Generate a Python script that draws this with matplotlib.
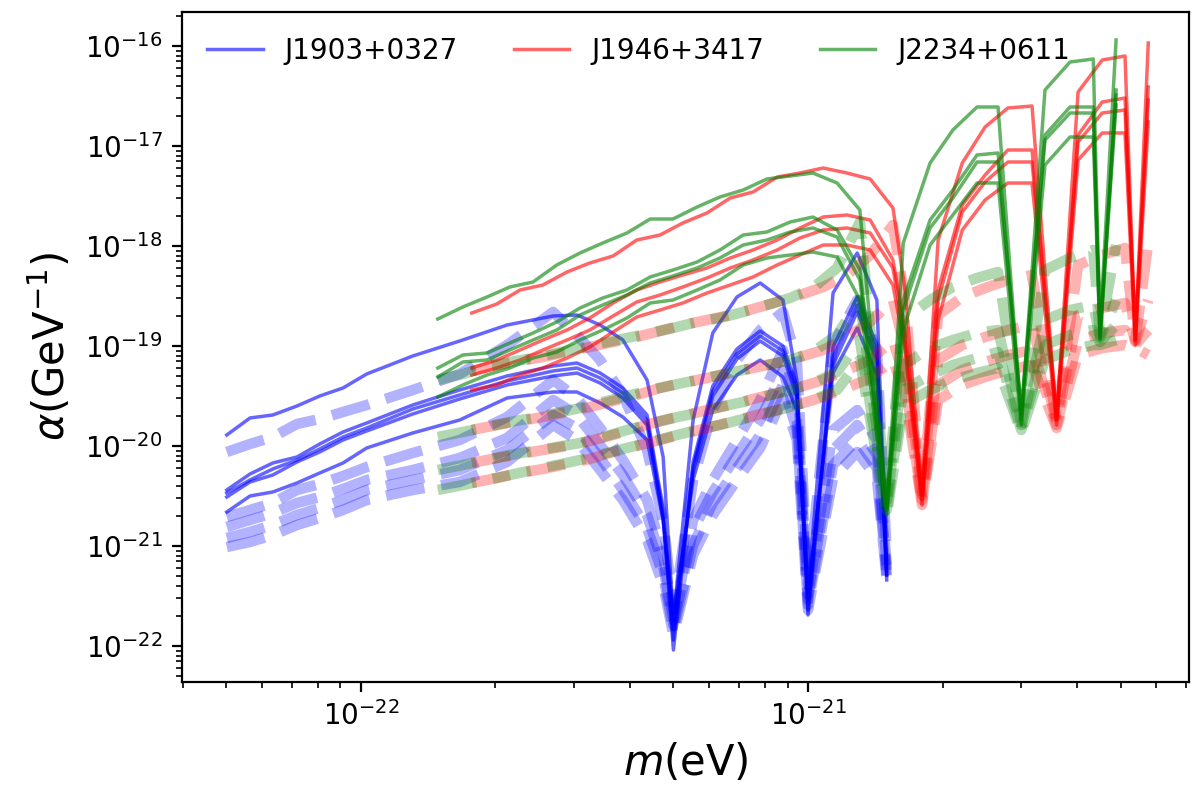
import numpy as np
import matplotlib
matplotlib.use('Agg')
import matplotlib.pyplot as plt
from matplotlib.ticker import NullFormatter

# all values are log10: x = log10(m / eV), y = log10(alpha / GeV^-1)

# ---- J1903+0327 ----
m_J1903 = [-22.300, -22.248, -22.197, -22.143, -22.092, -22.040, -21.987, -21.884, -21.779, -21.673,
           -21.570, -21.517, -21.465, -21.414, -21.360, -21.324, -21.301, -21.257, -21.213, -21.159,
           -21.107, -21.056, -21.025, -21.000, -20.944, -20.890, -20.846, -20.824]

J1903_obs_1 = [-19.89, -19.72, -19.69, -19.60, -19.50, -19.42, -19.28, -19.10, -18.95, -18.79,
               -18.70, -18.69, -18.79, -18.94, -19.34, -20.11, -21.74, -19.74, -18.87, -18.51,
               -18.37, -18.54, -19.34, -21.44, -18.47, -18.07, -18.54, -21.19]
J1903_obs_2 = [-20.44, -20.28, -20.17, -20.11, -19.98, -19.86, -19.77, -19.59, -19.44, -19.30,
               -19.20, -19.17, -19.27, -19.42, -19.69, -20.64, -21.94, -20.16, -19.40, -19.03,
               -18.85, -19.00, -19.40, -21.64, -19.01, -18.51, -18.99, -21.29]
J1903_obs_3 = [-20.47, -20.34, -20.23, -20.14, -20.03, -19.91, -19.82, -19.63, -19.49, -19.35,
               -19.25, -19.22, -19.32, -19.47, -19.74, -20.71, -22.04, -20.21, -19.45, -19.08,
               -18.90, -19.05, -19.45, -21.69, -19.11, -18.59, -19.06, -21.34]
J1903_obs_4 = [-20.51, -20.36, -20.29, -20.16, -20.06, -19.94, -19.85, -19.68, -19.53, -19.39,
               -19.30, -19.27, -19.37, -19.52, -19.79, -20.74, -21.84, -20.26, -19.50, -19.13,
               -18.95, -19.10, -19.50, -21.54, -19.19, -18.66, -19.14, -21.24]
J1903_obs_5 = [-20.66, -20.50, -20.46, -20.37, -20.27, -20.17, -20.02, -19.87, -19.74, -19.52,
               -19.46, -19.46, -19.57, -19.71, -19.94, -20.74, -21.69, -20.34, -19.64, -19.29,
               -19.14, -19.31, -19.64, -21.49, -19.27, -18.82, -19.29, -21.29]

J1903_exp_1 = [-20.06, -19.98, -19.91, -19.78, -19.73, -19.66, -19.59, -19.44, -19.28, -18.99,
               -18.66, -18.89, -19.14, -19.49, -20.04, -20.74, -21.64, -20.34, -19.64, -19.14,
               -18.84, -18.66, -19.14, -21.39, -18.99, -18.54, -19.04, -21.09]
J1903_exp_2 = [-20.71, -20.64, -20.57, -20.44, -20.38, -20.30, -20.21, -20.07, -19.94, -19.71,
               -19.34, -19.52, -19.82, -20.14, -20.54, -21.09, -21.74, -20.74, -20.34, -19.94,
               -19.54, -19.04, -19.54, -21.49, -19.84, -19.64, -19.94, -21.19]
J1903_exp_3 = [-20.81, -20.74, -20.67, -20.57, -20.51, -20.43, -20.34, -20.24, -20.12, -19.92,
               -19.54, -19.69, -19.99, -20.29, -20.69, -21.19, -21.79, -20.84, -20.46, -20.09,
               -19.74, -19.24, -19.74, -21.54, -20.04, -19.79, -20.09, -21.24]
J1903_exp_4 = [-20.92, -20.86, -20.79, -20.69, -20.62, -20.54, -20.44, -20.34, -20.24, -20.04,
               -19.69, -19.82, -20.12, -20.44, -20.82, -21.29, -21.84, -20.99, -20.57, -20.22,
               -19.89, -19.39, -19.84, -21.59, -20.19, -19.94, -20.22, -21.29]
J1903_exp_5 = [-21.01, -20.96, -20.89, -20.79, -20.72, -20.64, -20.54, -20.44, -20.36, -20.16,
               -19.79, -19.94, -20.24, -20.54, -20.94, -21.39, -21.89, -21.09, -20.69, -20.34,
               -20.02, -19.52, -19.94, -21.64, -20.32, -20.06, -20.32, -21.34]

# ---- J1946+3417 ----
m_J1946 = [-21.752, -21.696, -21.644, -21.593, -21.539, -21.488, -21.436, -21.383, -21.331, -21.280,
           -21.226, -21.174, -21.123, -21.069, -21.018, -20.966, -20.913, -20.861, -20.810, -20.783,
           -20.745, -20.709, -20.655, -20.604, -20.553, -20.499, -20.444, -20.396, -20.342, -20.291,
           -20.268, -20.239]

J1946_obs_1 = [-18.67, -18.58, -18.44, -18.39, -18.26, -18.17, -18.10, -17.94, -17.89, -17.77,
               -17.67, -17.52, -17.46, -17.31, -17.27, -17.22, -17.27, -17.33, -17.62, -18.44,
               -20.49, -17.94, -17.17, -16.81, -16.62, -16.60, -19.74, -16.46, -16.14, -16.10,
               -18.94, -15.97]
J1946_obs_2 = [-19.22, -19.14, -19.04, -18.94, -18.84, -18.72, -18.57, -18.44, -18.36, -18.29,
               -18.22, -18.12, -18.04, -17.94, -17.82, -17.71, -17.69, -17.74, -18.14, -18.84,
               -20.49, -18.44, -17.59, -17.29, -17.04, -17.04, -19.69, -16.89, -16.56, -16.52,
               -18.89, -16.41]
J1946_obs_3 = [-19.29, -19.22, -19.14, -19.04, -18.94, -18.84, -18.70, -18.56, -18.49, -18.41,
               -18.32, -18.22, -18.14, -18.04, -17.92, -17.84, -17.82, -17.87, -18.22, -18.94,
               -20.54, -18.54, -17.66, -17.36, -17.16, -17.16, -19.74, -16.96, -16.67, -16.64,
               -18.94, -16.54]
J1946_obs_4 = [-19.44, -19.39, -19.29, -19.22, -19.12, -19.01, -18.86, -18.71, -18.64, -18.57,
               -18.47, -18.39, -18.31, -18.19, -18.09, -17.99, -17.99, -18.04, -18.39, -19.04,
               -20.59, -18.74, -17.84, -17.54, -17.37, -17.37, -19.79, -17.14, -16.87, -16.87,
               -18.99, -16.76]

J1946_exp_1 = [-19.25, -19.19, -19.15, -19.11, -19.06, -19.01, -18.96, -18.91, -18.85, -18.79,
               -18.74, -18.69, -18.63, -18.56, -18.49, -18.41, -18.29, -18.09, -17.79, -18.54,
               -20.49, -18.69, -18.51, -18.42, -18.34, -18.29, -19.74, -18.19, -18.09, -18.02,
               -18.94, -17.97]
J1946_exp_2 = [-19.84, -19.79, -19.75, -19.71, -19.66, -19.61, -19.55, -19.49, -19.42, -19.37,
               -19.32, -19.27, -19.22, -19.17, -19.11, -19.04, -18.91, -18.76, -18.54, -19.04,
               -20.54, -19.14, -18.99, -18.91, -18.84, -18.79, -19.76, -18.69, -18.62, -18.57,
               -18.96, -18.54]
J1946_exp_3 = [-20.17, -20.12, -20.08, -20.04, -20.00, -19.95, -19.89, -19.82, -19.75, -19.70,
               -19.64, -19.59, -19.53, -19.47, -19.41, -19.34, -19.24, -19.14, -18.94, -19.34,
               -20.57, -19.39, -19.24, -19.16, -19.09, -19.04, -19.79, -18.94, -18.87, -18.84,
               -18.99, -18.84]
J1946_exp_4 = [-20.37, -20.32, -20.27, -20.23, -20.18, -20.13, -20.06, -20.00, -19.94, -19.88,
               -19.82, -19.76, -19.70, -19.64, -19.58, -19.51, -19.42, -19.32, -19.14, -19.49,
               -20.59, -19.54, -19.39, -19.31, -19.24, -19.19, -19.82, -19.09, -19.02, -18.99,
               -19.02, -19.09]

# ---- J2234+0611 ----
m_J2234 = [-21.828, -21.772, -21.718, -21.667, -21.615, -21.562, -21.510, -21.459, -21.405, -21.353,
           -21.302, -21.248, -21.197, -21.145, -21.092, -21.040, -20.989, -20.935, -20.884, -20.824,
           -20.787, -20.727, -20.676, -20.622, -20.575, -20.523, -20.470, -20.414, -20.362, -20.347,
           -20.311]

J2234_obs_1 = [-18.73, -18.61, -18.51, -18.41, -18.36, -18.19, -18.07, -17.97, -17.87, -17.73,
               -17.73, -17.61, -17.51, -17.44, -17.33, -17.30, -17.27, -17.37, -17.64, -20.64,
               -17.97, -17.17, -16.84, -16.61, -16.61, -19.74, -16.44, -16.16, -16.13, -18.84,
               -15.94]
J2234_obs_2 = [-19.22, -19.09, -19.07, -18.97, -18.87, -18.76, -18.62, -18.52, -18.44, -18.31,
               -18.24, -18.16, -18.04, -17.89, -17.86, -17.76, -17.71, -17.84, -18.24, -20.59,
               -18.54, -17.74, -17.44, -17.09, -17.07, -19.64, -16.89, -16.61, -16.61, -18.89,
               -16.44]
J2234_obs_3 = [-19.31, -19.16, -19.14, -19.04, -18.94, -18.84, -18.69, -18.59, -18.49, -18.37,
               -18.30, -18.22, -18.12, -17.99, -17.94, -17.86, -17.82, -17.91, -18.34, -20.64,
               -18.64, -17.82, -17.52, -17.16, -17.16, -19.69, -16.94, -16.67, -16.67, -18.92,
               -16.49]
J2234_obs_4 = [-19.51, -19.39, -19.29, -19.22, -19.12, -19.06, -18.94, -18.84, -18.72, -18.57,
               -18.54, -18.44, -18.34, -18.19, -18.12, -18.09, -18.06, -18.11, -18.54, -20.69,
               -18.84, -17.99, -17.69, -17.37, -17.37, -19.79, -17.19, -16.91, -16.91, -18.94,
               -16.59]

J2234_exp_1 = [-19.34, -19.28, -19.21, -19.16, -19.12, -19.07, -19.02, -18.97, -18.92, -18.87,
               -18.82, -18.76, -18.72, -18.66, -18.59, -18.52, -18.42, -18.22, -17.76, -20.54,
               -18.74, -18.54, -18.41, -18.32, -18.26, -19.79, -18.24, -18.12, -18.04, -18.89,
               -17.99]
J2234_exp_2 = [-19.91, -19.86, -19.81, -19.76, -19.72, -19.67, -19.62, -19.56, -19.50, -19.44,
               -19.39, -19.34, -19.29, -19.24, -19.19, -19.14, -19.06, -18.89, -18.54, -20.59,
               -19.19, -19.02, -18.94, -18.87, -18.84, -19.82, -18.74, -18.64, -18.59, -18.92,
               -18.54]
J2234_exp_3 = [-20.24, -20.19, -20.14, -20.09, -20.05, -20.01, -19.97, -19.91, -19.84, -19.78,
               -19.72, -19.67, -19.61, -19.56, -19.50, -19.44, -19.37, -19.26, -18.94, -20.64,
               -19.44, -19.29, -19.19, -19.12, -19.06, -19.84, -18.99, -18.89, -18.84, -18.96,
               -18.79]
J2234_exp_4 = [-20.44, -20.39, -20.34, -20.29, -20.24, -20.19, -20.14, -20.08, -20.02, -19.96,
               -19.90, -19.84, -19.79, -19.73, -19.67, -19.61, -19.54, -19.44, -19.14, -20.69,
               -19.59, -19.44, -19.34, -19.27, -19.22, -19.86, -19.14, -19.04, -18.99, -18.99,
               -18.94]

pulsars = [
    ('J1903+0327', 'blue', m_J1903,
     [J1903_obs_1, J1903_obs_2, J1903_obs_3, J1903_obs_4, J1903_obs_5],
     [J1903_exp_1, J1903_exp_2, J1903_exp_3, J1903_exp_4, J1903_exp_5]),
    ('J1946+3417', 'red', m_J1946,
     [J1946_obs_1, J1946_obs_2, J1946_obs_3, J1946_obs_4],
     [J1946_exp_1, J1946_exp_2, J1946_exp_3, J1946_exp_4]),
    ('J2234+0611', 'green', m_J2234,
     [J2234_obs_1, J2234_obs_2, J2234_obs_3, J2234_obs_4],
     [J2234_exp_1, J2234_exp_2, J2234_exp_3, J2234_exp_4]),
]

fig = plt.figure(figsize=(6, 3.955), dpi=200)
ax = fig.add_axes([0.1517, 0.1382, 0.8391, 0.847])

for name, color, m, obs, exp in pulsars:
    x = 10 ** np.array(m)
    for i, y in enumerate(obs):
        ax.plot(x, 10 ** np.array(y), color=color, lw=1.25, alpha=0.6,
                label=name if i == 0 else None)
    for y in exp:
        ax.plot(x, 10 ** np.array(y), color=color, lw=3.8, alpha=0.3, ls='--')

ax.set_xscale('log')
ax.set_yscale('log')
ax.set_xlim(10 ** -22.40, 10 ** -20.148)
ax.set_ylim(10 ** -22.357, 10 ** -15.657)
# no labels on minor ticks
ax.xaxis.set_minor_formatter(NullFormatter())
ax.yaxis.set_minor_formatter(NullFormatter())
ax.set_xlabel(r'$m$(eV)', fontsize=15)
ax.set_ylabel(r'$\alpha$(GeV$^{-1}$)', fontsize=15)
ax.legend(loc='upper left', ncol=3, frameon=False, fontsize=10)

fig.savefig('out.png', dpi=200)
